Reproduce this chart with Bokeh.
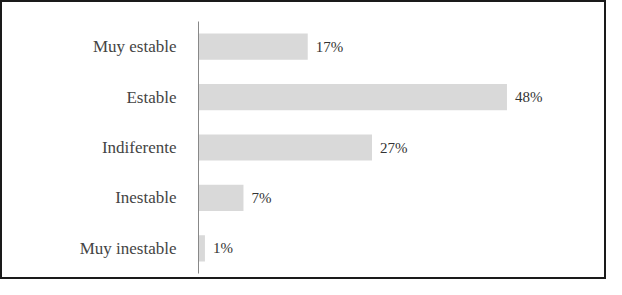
from bokeh.plotting import figure
from bokeh.models import ColumnDataSource, FactorRange
from bokeh.core.properties import value
from bokeh.embed import file_html
from bokeh.resources import INLINE

categories = ["Muy estable", "Estable", "Indiferente", "Inestable", "Muy inestable"]
percentages = [17, 48, 27, 7, 1]
labels = ["17%", "48%", "27%", "7%", "1%"]

src = ColumnDataSource(dict(cat=categories, val=percentages, lab=labels))

p = figure(width=606, height=279, output_backend="svg", toolbar_location=None,
           y_range=FactorRange(factors=list(reversed(categories))),
           x_range=(0, 61), tools="")
p.min_border_left = 196
p.min_border_right = 18
p.min_border_top = 19
p.min_border_bottom = 8
p.outline_line_color = None
p.styles = {"border": "2px solid #1a1a1a", "box-sizing": "border-box"}

p.hbar(y="cat", right="val", left=0, height=0.52, source=src,
       fill_color="#d9d9d9", line_color=None)
p.text(x="val", y="cat", text="lab", source=src, x_offset=8,
       text_baseline="middle", text_align="left",
       text_font=value("Liberation Serif"), text_font_size="15px",
       text_color="#333333")

p.xaxis.visible = False
p.xgrid.visible = False
p.ygrid.visible = False
yax = p.yaxis[0]
yax.axis_line_color = "#888888"
yax.axis_line_width = 1
yax.major_tick_line_color = None
yax.minor_tick_line_color = None
yax.major_label_standoff = 16
yax.major_label_text_font = "Liberation Serif"
yax.major_label_text_font_size = "17px"
yax.major_label_text_color = "#444444"

open("out.html", "w").write(file_html(p, INLINE))
